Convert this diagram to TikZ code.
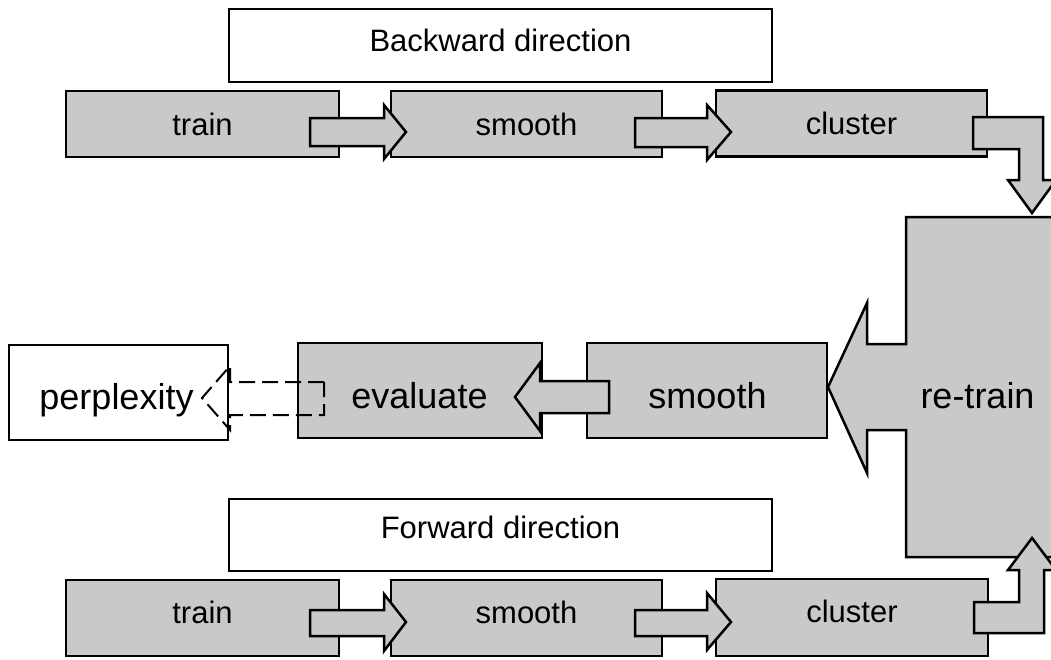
\documentclass[tikz,border=0pt]{standalone}
\usepackage{fontspec}
\setmainfont{Liberation Sans}
\definecolor{boxgray}{gray}{0.79}
\tikzset{
  box/.style={draw=black, line width=2.5pt, fill=boxgray, inner sep=0pt, outer sep=0pt},
  lbox/.style={draw=black, line width=2.5pt, fill=white, inner sep=0pt, outer sep=0pt},
  blockarrow/.style={draw=black, line width=2.5pt, fill=boxgray, line join=miter},
  dasharrow/.style={draw=black, line width=2pt, dash pattern=on 16pt off 7pt},
  smalltxt/.style={font=\fontsize{31}{37}\selectfont, anchor=base, inner sep=0pt},
  bigtxt/.style={font=\fontsize{36}{43}\selectfont, anchor=base, inner sep=0pt},
}
\begin{document}
\begin{tikzpicture}[x=1pt,y=-1pt]
\useasboundingbox (0,0) rectangle (1051,659);
% ---- labels
\node[lbox, minimum width=543pt, minimum height=73pt] (bwlabel) at (500.5,45.5) {};
\node[smalltxt] (bwtext) at (500.5,51) {Backward direction};
\node[lbox, minimum width=543pt, minimum height=72pt] (fwlabel) at (500.5,535) {};
\node[smalltxt] (fwtext) at (500.5,538) {Forward direction};
% ---- top row
\node[box, minimum width=273pt, minimum height=66pt] (btrain) at (202.5,124) {};
\node[smalltxt] at (202.5,135) {train};
\node[box, minimum width=271pt, minimum height=66pt] (bsmooth) at (526.5,124) {};
\node[smalltxt] at (526.5,135) {smooth};
\node[box, minimum width=271pt, minimum height=66pt] (bcluster) at (851.5,123.5) {};
\node[smalltxt] at (851.5,134) {cluster};
% ---- bottom row
\node[box, minimum width=273pt, minimum height=76pt] (ftrain) at (202.5,618) {};
\node[smalltxt] at (202.5,623) {train};
\node[box, minimum width=271pt, minimum height=76pt] (fsmooth) at (526.5,618) {};
\node[smalltxt] at (526.5,623) {smooth};
\node[box, minimum width=272pt, minimum height=77pt] (fcluster) at (852,617.5) {};
\node[smalltxt] at (852,622) {cluster};
% ---- middle row
\node[lbox, minimum width=219pt, minimum height=95pt] (perp) at (118.5,392.5) {};
\node[bigtxt] at (116.5,409) {perplexity};
\node[box, minimum width=244pt, minimum height=95pt] (eval) at (420,390.5) {};
\node[bigtxt] at (419.5,408) {evaluate};
\node[box, minimum width=240pt, minimum height=95pt] (msmooth) at (707,390.5) {};
\node[bigtxt] at (707.5,408) {smooth};
% re-train with its big arrow
\draw[blockarrow] (906,217) -- (1062,217) -- (1062,557) -- (906,557) -- (906,430)
  -- (867,430) -- (867,473) -- (828,387) -- (867,303) -- (867,344) -- (906,344) -- cycle;
\node[bigtxt] (retrain) at (977.5,408) {re-train};
% ---- block arrows, top row
\draw[blockarrow] (310,118) -- (384,118) -- (384,105) -- (406,132) -- (384,159) -- (384,146) -- (310,146) -- cycle;
\draw[blockarrow] (635,118) -- (707,118) -- (707,105) -- (731,132) -- (707,160) -- (707,147) -- (635,147) -- cycle;
\draw[blockarrow] (973,117) -- (1043,117) -- (1043,180) -- (1056,180) -- (1032,213) -- (1008,180) -- (1019,180) -- (1019,149) -- (973,149) -- cycle;
% ---- block arrows, bottom row
\draw[blockarrow] (310,610) -- (384,610) -- (384,594) -- (406,622) -- (384,651) -- (384,636) -- (310,636) -- cycle;
\draw[blockarrow] (635,610) -- (707,610) -- (707,593) -- (731,622) -- (707,650) -- (707,636) -- (635,636) -- cycle;
\draw[blockarrow] (974,633) -- (1044,633) -- (1044,570) -- (1056,570) -- (1032,538) -- (1008,570) -- (1019,570) -- (1019,602) -- (974,602) -- cycle;
% ---- middle arrows
\draw[blockarrow] (609,381) -- (540,381) -- (540,363) -- (515,397) -- (540,431) -- (540,413) -- (609,413) -- cycle;
\draw[dasharrow] (324,382) -- (230,382) -- (230,366) -- (202,398) -- (230,430) -- (230,415) -- (324,415) -- cycle;
\end{tikzpicture}
\end{document}
